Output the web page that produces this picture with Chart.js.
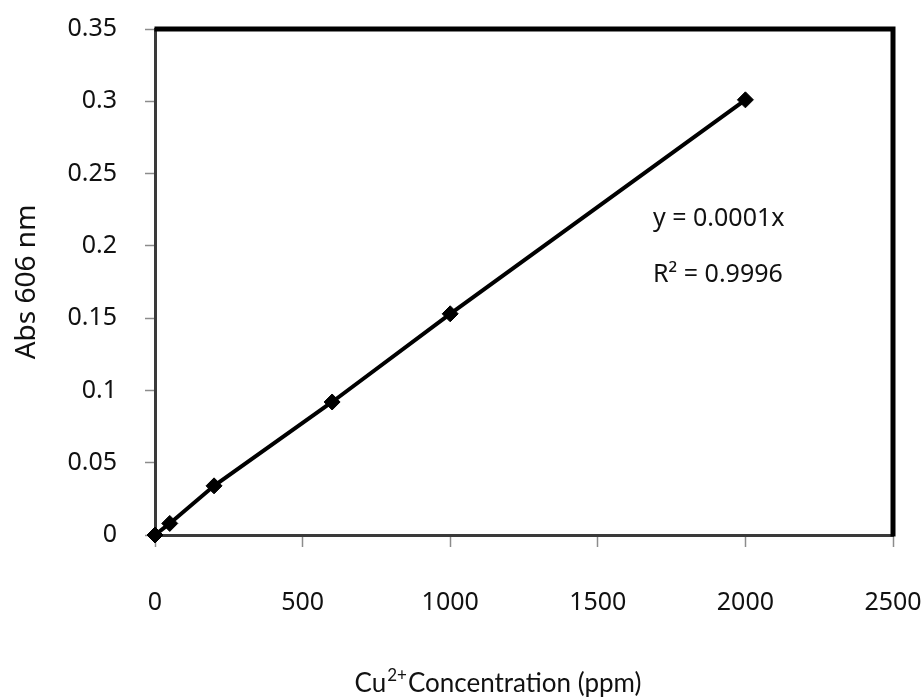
<!DOCTYPE html>
<html>
<head>
<meta charset="utf-8">
<title>curva de calibracion cu2+</title>
<script src="https://cdn.jsdelivr.net/npm/chart.js@4/dist/chart.umd.min.js"></script>
<style>
  html, body { margin: 0; padding: 0; background: #ffffff; }
  canvas { display: block; }
</style>
</head>
<body>
<canvas id="grafico" width="924" height="699"></canvas>
<script>
"use strict";
/* curva de calibracion - absorbancia a 606 nm vs concentracion de cu2+ */

// datos de la curva
var concentraciones = [0, 50, 200, 600, 1000, 2000];
var absorbancias = [0, 0.008, 0.034, 0.092, 0.153, 0.301];

// ejes
var ejeXMin = 0, ejeXMax = 2500, ejeXPaso = 500;
var ejeYMin = 0, ejeYMax = 0.35, ejeYPaso = 0.05;

// textos de la regresion
var textoEcuacion = "y = 0.0001x";
var textoR2 = "R\u00b2 = 0.9996";
var posEcuacion = [1687, 0.214];
var posR2 = [1687, 0.1747];

var fuenteNum = "'Noto Sans', sans-serif";
var fuenteTitulo = "Lato, 'Open Sans', sans-serif";

var puntos = concentraciones.map(function (c, i) {
  return { x: c, y: absorbancias[i] };
});

// marco superior/derecho, ecuacion y titulo del eje x con superindice
var marcoYTextos = {
  id: "marcoYTextos",
  afterDraw: function (chart) {
    var ctx = chart.ctx;
    var area = chart.chartArea;
    var sx = chart.scales.x;
    var sy = chart.scales.y;
    ctx.save();

    ctx.strokeStyle = "#000000";
    ctx.lineWidth = 5;
    ctx.lineCap = "square";
    ctx.beginPath();
    ctx.moveTo(area.left + 2, area.top);
    ctx.lineTo(area.right, area.top);
    ctx.lineTo(area.right, area.bottom - 1);
    ctx.stroke();

    ctx.fillStyle = "#111111";
    ctx.textBaseline = "alphabetic";
    ctx.textAlign = "left";
    ctx.font = "25px " + fuenteNum;
    ctx.fillText(textoEcuacion, sx.getPixelForValue(posEcuacion[0]), sy.getPixelForValue(posEcuacion[1]));
    ctx.fillText(textoR2, sx.getPixelForValue(posR2[0]), sy.getPixelForValue(posR2[1]));

    // titulo eje x: "Cu" + "2+" elevado + resto
    var base = "Cu";
    var sup = "2+";
    var resto = "Concentration (ppm)";
    ctx.font = "26px " + fuenteTitulo;
    var wBase = ctx.measureText(base).width;
    var wResto = ctx.measureText(resto).width;
    ctx.font = "17px " + fuenteTitulo;
    var wSup = ctx.measureText(sup).width + 2;
    var total = wBase + wSup + wResto;
    var x0 = (area.left + area.right) / 2 - 26 - total / 2;
    var yBase = 692;
    ctx.font = "26px " + fuenteTitulo;
    ctx.fillText(base, x0, yBase);
    ctx.font = "17px " + fuenteTitulo;
    ctx.fillText(sup, x0 + wBase + 1, yBase - 11);
    ctx.font = "26px " + fuenteTitulo;
    ctx.fillText(resto, x0 + wBase + wSup, yBase);

    ctx.restore();
  }
};

new Chart(document.getElementById("grafico"), {
  type: "scatter",
  data: {
    datasets: [{
      label: "abs 606 nm",
      data: puntos,
      showLine: true,
      borderColor: "#000000",
      backgroundColor: "#000000",
      borderWidth: 4,
      pointStyle: "rectRot",
      pointRadius: 8,
      pointHoverRadius: 8,
      pointBorderWidth: 1,
      clip: false,
    }],
  },
  options: {
    responsive: false,
    animation: false,
    events: [],
    layout: { padding: { top: 29, right: 31, left: 0, bottom: 0 } },
    plugins: {
      legend: { display: false },
      tooltip: { enabled: false },
    },
    scales: {
      x: {
        type: "linear",
        min: ejeXMin,
        max: ejeXMax,
        afterFit: function (escala) {
          escala.height = 699 - 535;
          escala.paddingLeft = 0;
          escala.paddingRight = 0;
        },
        ticks: {
          stepSize: ejeXPaso,
          color: "#111111",
          padding: 41,
          maxRotation: 0,
          font: { family: fuenteNum, size: 25 },
          callback: function (v) { return String(v); },
        },
        grid: {
          drawOnChartArea: false,
          drawTicks: true,
          tickLength: 12,
          tickColor: "#8c8c8c",
          tickWidth: 1.5,
        },
        border: { display: true, color: "#3a3a3a", width: 3 },
      },
      y: {
        type: "linear",
        min: ejeYMin,
        max: ejeYMax,
        afterFit: function (escala) {
          escala.width = 155;
          escala.paddingTop = 0;
          escala.paddingBottom = 0;
        },
        ticks: {
          stepSize: ejeYPaso,
          color: "#111111",
          padding: 28,
          font: { family: fuenteNum, size: 25 },
          callback: function (v) { return String(Number(v.toFixed(2))); },
        },
        grid: {
          drawOnChartArea: false,
          drawTicks: true,
          tickLength: 10,
          tickColor: "#8c8c8c",
          tickWidth: 1.5,
        },
        border: { display: true, color: "#3a3a3a", width: 3 },
        title: {
          display: true,
          text: "Abs 606 nm",
          color: "#111111",
          padding: { top: 10, bottom: 0 },
          font: { family: fuenteNum, size: 28 },
        },
      },
    },
  },
  plugins: [marcoYTextos],
});
</script>
</body>
</html>
